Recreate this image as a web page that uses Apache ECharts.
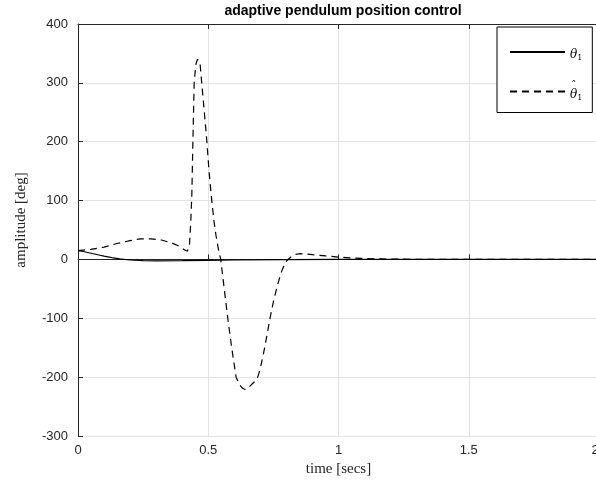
<!DOCTYPE html>
<html>
<head>
<meta charset="utf-8">
<script src="https://cdn.jsdelivr.net/npm/echarts@6/dist/echarts.min.js"></script>
<style>html,body{margin:0;padding:0;background:#fff;overflow:hidden}#c{width:596px;height:486px}</style>
</head>
<body>
<div id="c"></div>
<script>
const titleText = 'adaptive pendulum position control';
const xTicks = [0, 0.5, 1, 1.5, 2];
const yTicks = [-300, -200, -100, 0, 100, 200, 300, 400];

const thetaT = [0, 0.02, 0.05, 0.08, 0.1, 0.13, 0.16, 0.2, 0.25, 0.3, 0.4, 0.5, 0.6, 0.8, 1.0, 2.0];
const thetaV = [15, 13.5, 10.5, 7.5, 5.5, 3, 1, -1, -2, -2.3, -2, -1.5, -1, -0.3, 0, 0];

const hatT = [0, 0.05, 0.1, 0.15, 0.2, 0.24, 0.28, 0.32, 0.36, 0.39, 0.41, 0.42, 0.428, 0.433, 0.437, 0.441, 0.446, 0.452, 0.458, 0.463, 0.468, 0.475, 0.485, 0.494, 0.503, 0.513, 0.522, 0.53, 0.54, 0.548, 0.56, 0.575, 0.59, 0.607, 0.62, 0.632, 0.642, 0.652, 0.665, 0.68, 0.69, 0.7, 0.712, 0.725, 0.737, 0.75, 0.765, 0.78, 0.795, 0.806, 0.82, 0.835, 0.85, 0.87, 0.9, 0.95, 1.0, 1.05, 1.1, 1.2, 1.4, 2.0];
const hatV = [15, 17, 21, 27, 32, 35, 35, 33, 28, 22, 16, 14, 25, 65, 110, 200, 300, 330, 340, 341, 335, 300, 250, 204, 150, 102, 65, 40, 15, 0, -45, -100, -150, -200, -213, -219, -221, -219, -213, -207, -200, -185, -160, -130, -100, -72, -45, -22, -6, 0, 5, 8.5, 9.7, 9.5, 8, 6, 4, 2.5, 1.5, 0.5, 0, 0];

const seriesNames = ['theta', 'thetahat'];

const zip = (a, b) => a.map((v, i) => [v, b[i]]);

const chart = echarts.init(document.getElementById('c'), null, {renderer: 'canvas'});
const tickFont = {fontFamily: 'Liberation Sans, Arial, sans-serif', fontSize: 13, color: '#262626'};
chart.setOption({
  animation: false,
  backgroundColor: '#fff',
  title: {
    text: titleText, left: 338, top: -1, textAlign: 'center',
    textStyle: {fontFamily: 'Liberation Sans, Arial, sans-serif', fontWeight: 'bold', fontSize: 14, color: '#000'}
  },
  grid: {left: 78, width: 521, top: 24, bottom: 50, containLabel: false, outerBoundsMode: 'none'},
  legend: {
    data: seriesNames,
    orient: 'vertical', left: 497, top: 27,
    backgroundColor: '#fff', borderColor: '#000', borderWidth: 1, borderRadius: 0,
    padding: [14, 10, 11, 12], itemWidth: 55, itemHeight: 14, itemGap: 18,
    itemStyle: {opacity: 0, borderWidth: 0},
    formatter: function (n) {
      return n === 'theta' ? '{e|}\n{t|θ}{s|1}' : '{h|ˆ}\n{t|θ}{s|1}';
    },
    textStyle: {
      rich: {
        e: {fontSize: 8, lineHeight: 6, height: 6},
        h: {fontFamily: 'DejaVu Serif, serif', fontSize: 11, lineHeight: 6, height: 6, color: '#000', padding: [3, 0, 0, 1]},
        t: {fontFamily: 'DejaVu Serif, serif', fontStyle: 'italic', fontSize: 12, lineHeight: 14, color: '#000'},
        s: {fontFamily: 'DejaVu Serif, serif', fontSize: 8, lineHeight: 14, color: '#000', verticalAlign: 'bottom', padding: [6, 0, 0, 0]}
      }
    }
  },
  xAxis: [{
    type: 'value', min: 0, max: 2, interval: 0.5, position: 'bottom',
    name: 'time [secs]', nameLocation: 'middle', nameGap: 26,
    nameTextStyle: {fontFamily: 'Liberation Serif, serif', fontSize: 15, color: '#262626'},
    axisLine: {show: true, lineStyle: {color: '#262626', width: 1}},
    axisTick: {show: true, inside: true, length: 5, lineStyle: {color: '#262626'}},
    axisLabel: Object.assign({
      margin: 8, showMaxLabel: true, showMinLabel: true, hideOverlap: false,
      formatter: v => (v === xTicks[xTicks.length - 1] ? '{m|' + v + '}' : String(v)),
      rich: {m: {fontFamily: 'Liberation Sans, Arial, sans-serif', fontSize: 13, color: '#262626', padding: [0, 8, 0, 0]}}
    }, tickFont),
    splitLine: {show: true, lineStyle: {color: '#e3e3e3', width: 1}}
  }, {
    type: 'value', min: 0, max: 2, interval: 0.5, position: 'top',
    axisLine: {show: true, lineStyle: {color: '#262626', width: 1}},
    axisTick: {show: true, inside: true, length: 5, lineStyle: {color: '#262626'}},
    axisLabel: {show: false}, splitLine: {show: false}
  }],
  yAxis: {
    type: 'value', min: -300, max: 400, interval: 100,
    name: 'amplitude [deg]', nameLocation: 'middle', nameGap: 49,
    nameTextStyle: {fontFamily: 'Liberation Serif, serif', fontSize: 15, color: '#262626', padding: [0, 0, 0, 20]},
    axisLine: {show: true, lineStyle: {color: '#262626', width: 1}},
    axisTick: {show: true, inside: true, length: 5, lineStyle: {color: '#262626'}},
    axisLabel: Object.assign({margin: 10}, tickFont),
    splitLine: {show: true, lineStyle: {color: '#e3e3e3', width: 1}}
  },
  series: [{
    name: seriesNames[0], type: 'line', data: zip(thetaT, thetaV),
    showSymbol: false, symbol: 'none', smooth: false,
    lineStyle: {color: '#000', width: 1.2, type: 'solid'}, itemStyle: {color: '#000'}
  }, {
    name: seriesNames[1], type: 'line', data: zip(hatT, hatV),
    showSymbol: false, symbol: 'none', smooth: false,
    lineStyle: {color: '#000', width: 1.2, type: [7, 5]}, itemStyle: {color: '#000'}
  }]
});
</script>
</body>
</html>
